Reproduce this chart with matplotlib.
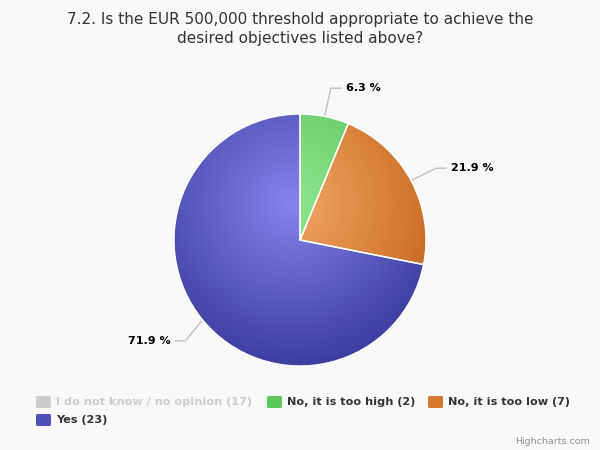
## pie of answers to question 7.2, drawn to look like the highcharts original
import numpy as np
import matplotlib
matplotlib.use('Agg')
import matplotlib.pyplot as plt
from matplotlib.patches import FancyBboxPatch

title = '7.2. Is the EUR 500,000 threshold appropriate to achieve the\ndesired objectives listed above?'
labels = ['I do not know / no opinion', 'No, it is too high', 'No, it is too low', 'Yes']
counts = [17, 2, 7, 23]
visible = [False, True, True, True]   # first series is switched off in the legend

light = ['#cccccc', '#8ee88e', '#f2a865', '#8484ec']
dark = ['#cccccc', '#58bc58', '#c4641c', '#383c9c']
flat = ['#cccccc', '#5cc85c', '#d6782c', '#4c50b8']

bg = '#f8f8f8'
fig = plt.figure(figsize=(6, 4.5), dpi=100, facecolor=bg)

# pie axes placed in pixels: centre (300,240), radius 126
W, H = 600., 450.
cx, cy, R = 300., 240., 126.
ax = fig.add_axes([(cx - R) / W, (H - cy - R) / H, 2 * R / W, 2 * R / H])

vals = [c for c, v in zip(counts, visible) if v]
cols = [i for i, v in enumerate(visible) if v]
wedges, _ = ax.pie(vals, startangle=90, counterclock=False, radius=1,
                   colors=[flat[i] for i in cols],
                   wedgeprops=dict(edgecolor='white', linewidth=1.0))
ax.set_aspect('equal')
ax.axis('off')

# radial gradient inside each wedge
n = 300
gx, gy = np.meshgrid(np.linspace(-1, 1, n), np.linspace(-1, 1, n))
d = np.sqrt((gx + 0.08) ** 2 + (gy - 0.3) ** 2)
t = np.clip(d / 1.35, 0, 1)[..., None]
for w, i in zip(wedges, cols):
    c0 = np.array(matplotlib.colors.to_rgb(light[i]))
    c1 = np.array(matplotlib.colors.to_rgb(dark[i]))
    img = c0 * (1 - t) + c1 * t
    im = ax.imshow(img, extent=[-1, 1, -1, 1], origin='lower', zorder=1.5)
    im.set_clip_path(w)
    w.set_facecolor('none')
    w.set_zorder(2)
ax.set_xlim(-1, 1)
ax.set_ylim(-1, 1)

# data labels with connectors
total = float(sum(vals))
start = 0.0
lab_pos = [(0.365, 1.205, 'left'), (1.20, 0.57, 'left'), (-1.03, -0.80, 'right')]
for v, (lx, ly, ha) in zip(vals, lab_pos):
    mid = (start + v / 2.) / total * 2 * np.pi
    start += v
    ex, ey = np.sin(mid), np.cos(mid)
    sgn = 1 if ha == 'left' else -1
    bx = lx - sgn * 0.04
    kx = bx - sgn * 0.08
    ax.plot([ex, kx, bx], [ey, ly, ly], color='#c0c0c0', lw=1, clip_on=False, zorder=1)
    pct = np.floor(1000 * v / total + 0.5) / 10   # round half up like highcharts
    ax.text(lx, ly, '%.1f %%' % pct, ha=ha, va='center',
            fontsize=8, fontweight='bold', color='#000000', clip_on=False)

fig.text(0.5, 1 - 29 / H, title, ha='center', va='center', fontsize=11,
         color='#333333', linespacing=1.3)

# legend
items = [(36, 402), (267, 402), (428, 402), (36, 420)]
for i, (x, y) in enumerate(items):
    col = flat[i] if visible[i] else '#cccccc'
    fig.patches.append(FancyBboxPatch((x / W, 1 - (y + 6) / H), 15 / W, 12 / H,
                                      boxstyle='round,pad=0,rounding_size=0.003',
                                      transform=fig.transFigure, facecolor=col,
                                      edgecolor='none'))
    fig.text((x + 20) / W, 1 - y / H, '%s (%d)' % (labels[i], counts[i]),
             ha='left', va='center', fontsize=8.1, fontweight='bold',
             color='#333333' if visible[i] else '#cccccc')

fig.text(590 / W, 1 - 442 / H, 'Highcharts.com', ha='right', va='center',
         fontsize=6.8, color='#909090')

plt.savefig('out.png', dpi=100, facecolor=bg)
